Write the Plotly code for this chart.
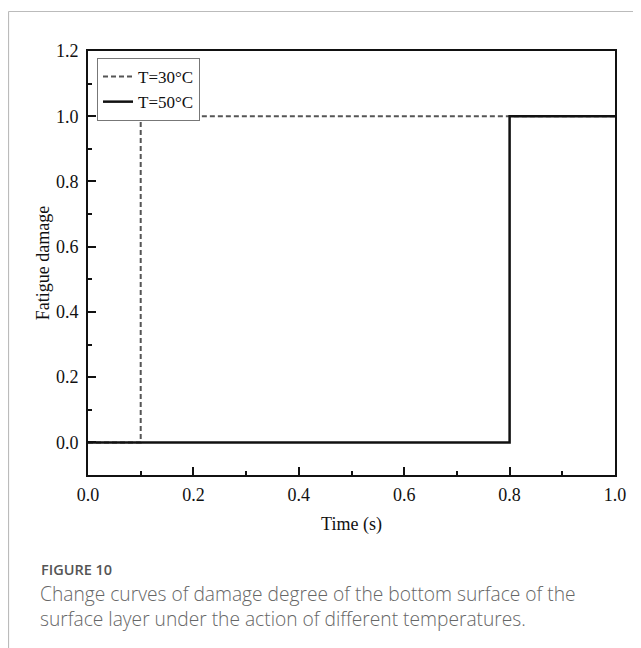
import plotly.graph_objects as go

# Data
t30_x = [0.0, 0.1, 0.1, 1.0]
t30_y = [0.0, 0.0, 1.0, 1.0]
t50_x = [0.0, 0.8, 0.8, 1.0]
t50_y = [0.0, 0.0, 1.0, 1.0]
series_names = ["T=30°C", "T=50°C"]
x_ticks = [0.0, 0.2, 0.4, 0.6, 0.8, 1.0]
x_ticklabels = ["0.0", "0.2", "0.4", "0.6", "0.8", "1.0"]
y_ticks = [0.0, 0.2, 0.4, 0.6, 0.8, 1.0, 1.2]
y_ticklabels = ["0.0", "0.2", "0.4", "0.6", "0.8", "1.0", "1.2"]

OFF = 8  # page body margin
W, H = 641 - OFF, 648 - OFF
# plot area in page pixels: x 88..615, y 51..475
L = 88 - OFF
T = 51 - OFF
R = W - (615 - OFF)
B = H - (475 - OFF)
pw, ph = W - L - R, H - T - B

def px_x(p):
    return (p - OFF - L) / pw

def px_y(p):
    return (H - B - (p - OFF)) / ph

serif = "Liberation Serif, Times New Roman, serif"

fig = go.Figure()
fig.add_trace(go.Scatter(x=t30_x, y=t30_y, mode="lines", name=series_names[0],
                         line=dict(color="#555555", width=2, dash="5px,3px")))
fig.add_trace(go.Scatter(x=t50_x, y=t50_y, mode="lines", name=series_names[1],
                         line=dict(color="#111111", width=2.5)))

axis_common = dict(showline=True, linecolor="#111111", linewidth=2, mirror=True,
                   ticks="inside", ticklen=8, tickwidth=1.5, tickcolor="#111111",
                   showgrid=False, zeroline=False,
                   tickfont=dict(family=serif, size=18, color="#111111"))

fig.update_xaxes(range=[0, 1], tickvals=x_ticks, ticktext=x_ticklabels, ticklabelstandoff=2,
                 minor=dict(ticks="inside", ticklen=4, dtick=0.1, tick0=0, tickcolor="#111111", tickwidth=1.5),
                 title=dict(text="Time (s)", font=dict(family=serif, size=18, color="#111111"), standoff=14),
                 **axis_common)
fig.update_yaxes(range=[-0.1, 1.2], tickvals=y_ticks, ticktext=y_ticklabels, ticklabelstandoff=4,
                 minor=dict(ticks="inside", ticklen=4, dtick=0.1, tick0=0, tickcolor="#111111", tickwidth=1.5),
                 title=dict(text="Fatigue damage", font=dict(family=serif, size=18, color="#111111"), standoff=2),
                 **axis_common)

fig.update_layout(
    width=W, height=H,
    margin=dict(l=L, r=R, t=T, b=B, autoexpand=False),
    paper_bgcolor="white", plot_bgcolor="white",
    showlegend=True,
    legend=dict(x=px_x(97), y=px_y(58), xanchor="left", yanchor="top",
                bgcolor="white", bordercolor="#777777", borderwidth=1,
                font=dict(family=serif, size=17, color="#111111"),
                tracegroupgap=0, itemwidth=30),
    shapes=[
        dict(type="line", xref="paper", yref="paper", x0=px_x(8.5), x1=px_x(700),
             y0=px_y(11.5), y1=px_y(11.5), line=dict(color="#bbbbbb", width=1.2)),
        dict(type="line", xref="paper", yref="paper", x0=px_x(8.5), x1=px_x(8.5),
             y0=px_y(11.5), y1=px_y(700), line=dict(color="#bbbbbb", width=1.2)),
    ],
    annotations=[
        dict(text="FIGURE 10", xref="paper", yref="paper", x=px_x(40), y=px_y(569),
             xanchor="left", yanchor="middle", showarrow=False, borderpad=0,
             font=dict(family="Open Sans, sans-serif", size=14.5, color="#555555", weight=600)),
        dict(text="Change curves of damage degree of the bottom surface of the<br>surface layer under the action of different temperatures.",
             xref="paper", yref="paper", x=px_x(39), y=px_y(578.5), xanchor="left", yanchor="top",
             align="left", showarrow=False, borderpad=0,
             font=dict(family="Open Sans, sans-serif", size=19.2, color="#666666", weight=300)),
    ],
)

fig.write_html("out.html")
